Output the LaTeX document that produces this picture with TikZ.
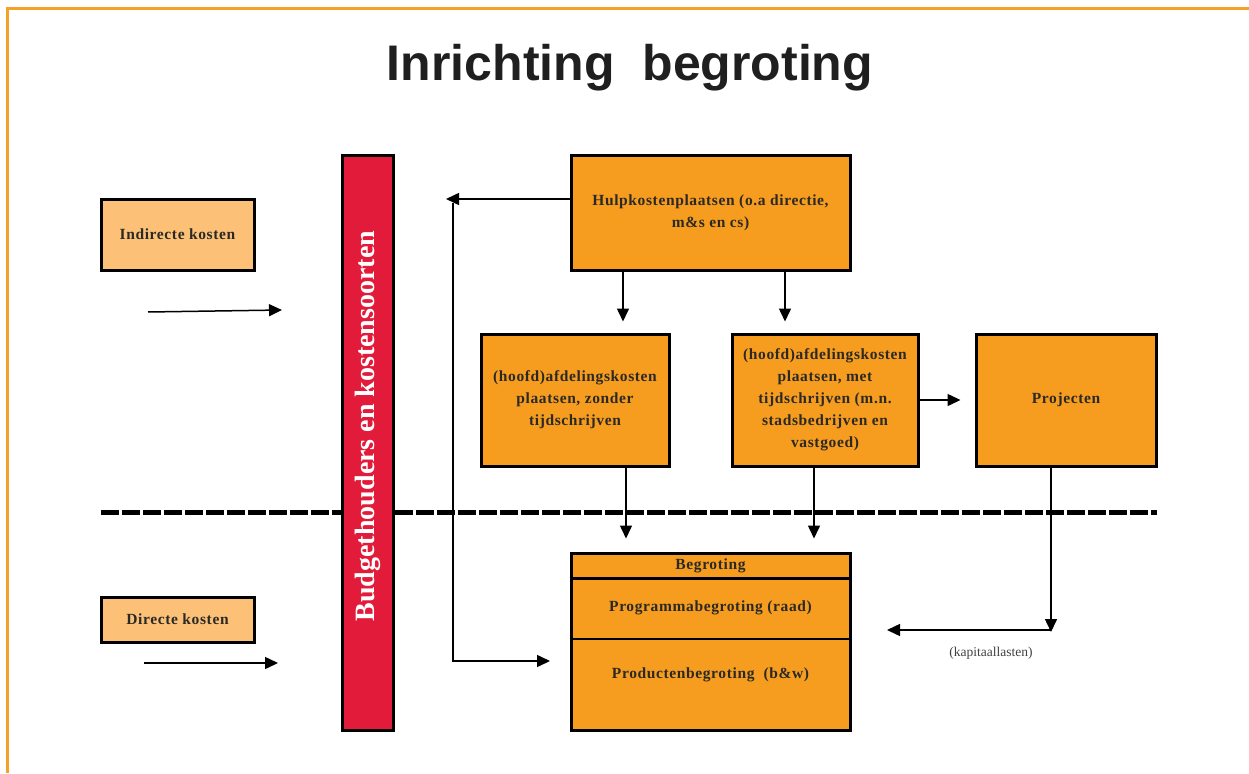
\documentclass[tikz,border=0pt]{standalone}
\usepackage{fontspec}
\setmainfont{Liberation Serif}
\newfontfamily\titelfont{Liberation Sans}
\newfontfamily\kadertekst{Liberation Serif}[LetterSpace=4.0]
\usetikzlibrary{arrows.meta}

\definecolor{oranje}{HTML}{F69D1F}
\definecolor{lichtoranje}{HTML}{FCC177}
\definecolor{rood}{HTML}{E31B3A}
\definecolor{randoranje}{HTML}{F7A128}
\definecolor{tekstkleur}{HTML}{2B2926}

\tikzset{
  kader/.style={draw=black, line width=3pt, fill=oranje, text=tekstkleur, align=center, inner sep=2pt,
    font=\kadertekst\bfseries\fontsize{15.5}{22}\selectfont},
  lichtkader/.style={kader, fill=lichtoranje},
  pijl/.style={-{Triangle[length=13pt,width=12pt]}, line width=1.5pt},
  scheiding/.style={line width=5pt, dash pattern=on 18pt off 3pt},
}

\begin{document}
\begin{tikzpicture}[x=1pt,y=1pt,yscale=-1,xscale=1]
            \useasboundingbox (0,0) rectangle (1249,773);

            %Shape: Frame
            \draw [randoranje, line width=3pt] (1249,9) -- (7,9) -- (7,773) ;

            % Text Node
            \node (titel) at (630,68) [text=black!88, font=\titelfont\bfseries\fontsize{50}{60}\selectfont] {Inrichting\ \ begroting};

            %Straight Lines: divider
            \draw [scheiding] (101,512) -- (1157,512) ;

            %Shape: Rectangle
            \node (indirect) at (177.5,234.5) [lichtkader, minimum width=153pt, minimum height=71pt] {Indirecte kosten};
            %Shape: Rectangle
            \node (direct) at (177.5,619.5) [lichtkader, minimum width=153pt, minimum height=45pt] {Directe kosten};

            %Shape: Bar
            \node (budget) at (368,442.5) [draw=black, line width=3pt, fill=rood, minimum width=51pt, minimum height=575pt] {};
            % Text Node
            \node (budgettekst) at (368,426) [rotate=90, text=white, font=\bfseries\fontsize{28}{32}\selectfont] {Budgethouders en kostensoorten};

            %Shape: Rectangle
            \node (hulp) at (710.5,212.5) [kader, minimum width=279pt, minimum height=115pt] {Hulpkostenplaatsen (o.a directie,\\m\&s en cs)};
            %Shape: Rectangle
            \node (zonder) at (575,400) [kader, minimum width=188pt, minimum height=132pt] {(hoofd)afdelingskosten\\plaatsen, zonder\\tijdschrijven};
            %Shape: Rectangle
            \node (met) at (825,400) [kader, minimum width=186pt, minimum height=132pt] {(hoofd)afdelingskosten\\plaatsen, met\\tijdschrijven (m.n.\\stadsbedrijven en\\vastgoed)};
            %Shape: Rectangle
            \node (projecten) at (1066,400) [kader, minimum width=180pt, minimum height=132pt] {Projecten};

            %Shape: Rectangle
            \node (begr) at (710.5,641.5) [kader, minimum width=279pt, minimum height=177pt] {};
            %Straight Lines
            \draw [line width=3pt] (begr.west |- 0,578) -- (begr.east |- 0,578) ;
            %Straight Lines
            \draw [line width=1.5pt] (begr.west |- 0,639) -- (begr.east |- 0,639) ;
            % Text Node
            \node (begrkop) at (710.5,565.5) [kader, draw=none, fill=none] {Begroting};
            % Text Node
            \node (programma) at (710.5,608) [kader, draw=none, fill=none] {Programmabegroting (raad)};
            % Text Node
            \node (producten) at (710.5,675) [kader, draw=none, fill=none] {Productenbegroting\ \ (b\&w)};

            %Free ends
            \coordinate (ind1) at (148,312);
            \coordinate (ind2) at (282,310);
            \coordinate (dir1) at (144,663);
            \coordinate (dir2) at (278,663);
            \coordinate (links) at (446,199);
            \coordinate (terug) at (453,203);
            \coordinate (naarbegr) at (550,661);
            \coordinate (kap1) at (1051,632);
            \coordinate (kap2) at (887,630);

            %Arrows
            \draw [pijl] (ind1) -- (ind2) ;
            \draw [pijl] (dir1) -- (dir2) ;
            \draw [pijl] (hulp.west |- links) -- (links) ;
            \draw [pijl] (terug) |- (naarbegr) ;
            \draw [pijl, shorten >=11pt] (hulp.south -| 623,0) -- (zonder.north -| 623,0) ;
            \draw [pijl, shorten >=11pt] (hulp.south -| 785,0) -- (met.north -| 785,0) ;
            \draw [pijl, shorten >=13pt] (zonder.south -| 626,0) -- (begr.north -| 626,0) ;
            \draw [pijl, shorten >=13pt] (met.south -| 814,0) -- (begr.north -| 814,0) ;
            \draw [pijl, shorten >=14pt] (met.east) -- (projecten.west) ;
            \draw [pijl] (projecten.south -| kap1) -- (kap1) ;
            \draw [pijl] (kap1 |- kap2) -- (kap2) ;

            % Text Node
            \node (kaplabel) at (991,653) [text=black!75, font=\fontsize{13.5}{16}\selectfont] {(kapitaallasten)};
        \end{tikzpicture}
\end{document}
